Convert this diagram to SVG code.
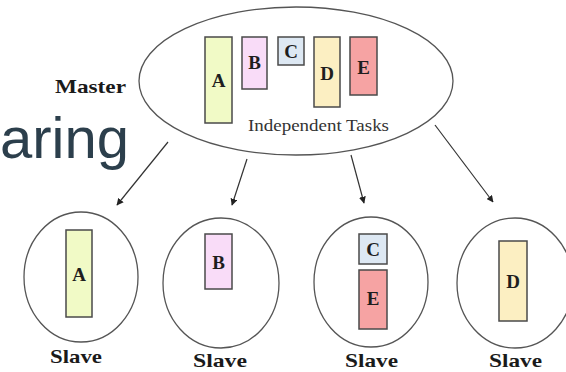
<svg xmlns="http://www.w3.org/2000/svg" width="566" height="372" viewBox="0 0 566 372">
  <style>
    .pool { fill: #ffffff; stroke: #555555; stroke-width: 1.3; }
    .task { stroke: #4a4a4a; stroke-width: 1.5; }
    .ta { fill: #f1fac6; }
    .tb { fill: #f9dcf8; }
    .tc { fill: #dde8f3; }
    .td { fill: #fcefc2; }
    .te { fill: #f6a3a3; }
    .letter { font-family: "Liberation Serif", "Times New Roman", serif; font-weight: bold; font-size: 19px; fill: #1e1e1e; text-anchor: middle; }
    .role { font-family: "Liberation Serif", "Times New Roman", serif; font-weight: bold; font-size: 19px; fill: #1a1a1a; }
    .caption { font-family: "Liberation Serif", "Times New Roman", serif; font-size: 16px; fill: #333333; }
    .big { font-family: "Liberation Sans", Arial, sans-serif; font-size: 58px; fill: #2c3f4c; }
    .link { stroke: #333333; stroke-width: 1.2; fill: none; marker-end: url(#head); }
  </style>
  <defs>
    <marker id="head" viewBox="0 0 10 10" refX="9" refY="5" markerWidth="7" markerHeight="7" markerUnits="userSpaceOnUse" orient="auto">
      <path d="M0,0 L10,5 L0,10 Z" fill="#222222"/>
    </marker>
  </defs>

  <rect width="566" height="372" fill="#ffffff"/>

  <!-- partial heading word behind the diagram -->
  <text class="big" x="0" y="158">aring</text>

  <!-- master node with the pool of independent tasks -->
  <g id="master">
    <ellipse class="pool" cx="296" cy="81" rx="157" ry="74"/>
    <text class="role" x="55" y="93" textLength="71" lengthAdjust="spacingAndGlyphs">Master</text>
    <rect class="task ta" x="205" y="37" width="27" height="86"/>
    <text class="letter" x="218.5" y="87">A</text>
    <rect class="task tb" x="242" y="37" width="25" height="52"/>
    <text class="letter" x="254.5" y="69">B</text>
    <rect class="task tc" x="278" y="37" width="26" height="28"/>
    <text class="letter" x="291" y="58">C</text>
    <rect class="task td" x="314" y="37" width="26" height="70"/>
    <text class="letter" x="327" y="80">D</text>
    <rect class="task te" x="350" y="37" width="27" height="58"/>
    <text class="letter" x="363.5" y="74">E</text>
    <text class="caption" x="248" y="131" textLength="141" lengthAdjust="spacingAndGlyphs">Independent Tasks</text>
  </g>

  <!-- distribution arrows -->
  <g id="connectors">
    <line class="link" x1="168" y1="142" x2="117" y2="205"/>
    <line class="link" x1="247" y1="159" x2="232" y2="205"/>
    <line class="link" x1="351" y1="155" x2="364" y2="203"/>
    <line class="link" x1="435" y1="125" x2="493" y2="202"/>
  </g>

  <!-- slave nodes -->
  <g id="slave-1">
    <ellipse class="pool" cx="81" cy="277" rx="57" ry="65"/>
    <rect class="task ta" x="66" y="230" width="26" height="87"/>
    <text class="letter" x="79" y="281">A</text>
    <text class="role" x="50" y="363" textLength="52" lengthAdjust="spacingAndGlyphs">Slave</text>
  </g>

  <g id="slave-2">
    <ellipse class="pool" cx="221" cy="283" rx="58" ry="65"/>
    <rect class="task tb" x="205" y="234" width="27" height="55"/>
    <text class="letter" x="218.5" y="269">B</text>
    <text class="role" x="193" y="367" textLength="54" lengthAdjust="spacingAndGlyphs">Slave</text>
  </g>

  <g id="slave-3">
    <ellipse class="pool" cx="371" cy="282" rx="57" ry="65"/>
    <rect class="task tc" x="359" y="234" width="28" height="30"/>
    <text class="letter" x="373" y="256">C</text>
    <rect class="task te" x="359" y="270" width="28" height="59"/>
    <text class="letter" x="373" y="305">E</text>
    <text class="role" x="345" y="367" textLength="53" lengthAdjust="spacingAndGlyphs">Slave</text>
  </g>

  <g id="slave-4">
    <ellipse class="pool" cx="515" cy="283" rx="58" ry="65"/>
    <rect class="task td" x="499" y="241" width="28" height="80"/>
    <text class="letter" x="513" y="288">D</text>
    <text class="role" x="489" y="367" textLength="53" lengthAdjust="spacingAndGlyphs">Slave</text>
  </g>
</svg>
